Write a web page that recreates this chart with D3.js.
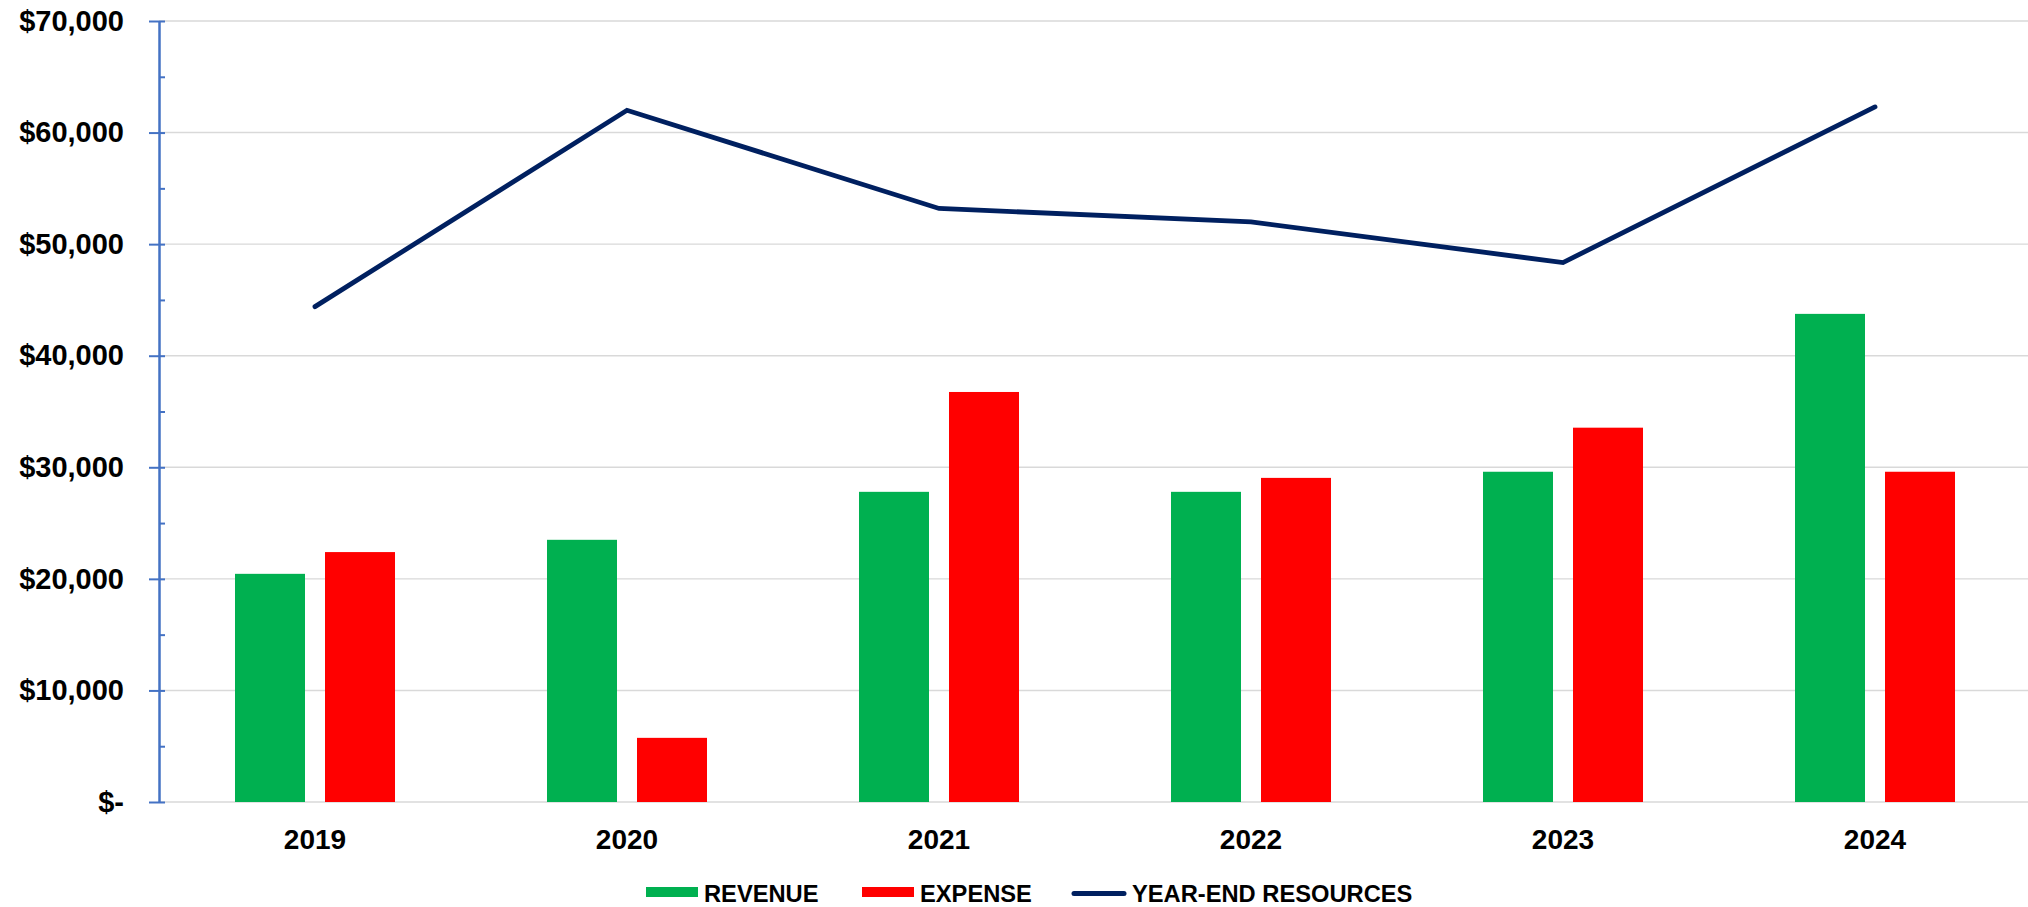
<!doctype html>
<meta charset="utf-8">
<style>
body { margin: 0; background: #fff; }
svg { display: block; font-family: "Liberation Sans", Arial, sans-serif; }
.grid line { stroke: #d9d9d9; stroke-width: 1.4; }
.yaxis path, .yaxis line, .yminor path, .yminor line { stroke: #4472c4; stroke-width: 2; }
.yaxis text { font-size: 29px; font-weight: bold; fill: #000; }
.xlab { font-size: 28px; font-weight: bold; fill: #000; }
.legend text { font-size: 23.7px; font-weight: bold; fill: #000; }
</style>
<body>
<div id="viz"></div>
<script src="https://cdn.jsdelivr.net/npm/d3@7"></script>
<script>
// chart data
var years = ["2019", "2020", "2021", "2022", "2023", "2024"];
var revenue = [20450, 23500, 27800, 27800, 29600, 43750];
var expense = [22400, 5750, 36750, 29050, 33550, 29600];
var resources = [44400, 62000, 53200, 52000, 48350, 62300];
var yTicks = [0, 10000, 20000, 30000, 40000, 50000, 60000, 70000];
var seriesNames = ["REVENUE", "EXPENSE", "YEAR-END RESOURCES"];

var W = 2028, H = 907;
var colors = { REVENUE: "#00b050", EXPENSE: "#ff0000", "YEAR-END RESOURCES": "#002060" };

var svg = d3.select("#viz").append("svg").attr("width", W).attr("height", H);

var x0 = d3.scaleBand().domain(years).range([159, 2031]).padding(0);
var x1 = d3.scaleBand().domain(["REVENUE", "EXPENSE"]).range([0, x0.bandwidth()])
    .paddingInner(20 / 90).paddingOuter(0.8444);
var y = d3.scaleLinear().domain([0, 70000]).range([802, 21]);

// gridlines
svg.append("g").attr("class", "grid").selectAll("line").data(yTicks).enter().append("line")
    .attr("x1", 159).attr("x2", W)
    .attr("y1", function(d) { return y(d); }).attr("y2", function(d) { return y(d); });

// bars
var rows = years.map(function(yr, i) {
    return { year: yr, vals: [{ k: "REVENUE", v: revenue[i] }, { k: "EXPENSE", v: expense[i] }] };
});
svg.append("g").selectAll("g").data(rows).enter().append("g")
    .attr("transform", function(d) { return "translate(" + x0(d.year) + ",0)"; })
    .selectAll("rect").data(function(d) { return d.vals; }).enter().append("rect")
    .attr("x", function(d) { return x1(d.k); })
    .attr("width", x1.bandwidth())
    .attr("y", function(d) { return y(d.v); })
    .attr("height", function(d) { return y(0) - y(d.v); })
    .attr("fill", function(d) { return colors[d.k]; });

// line
var line = d3.line()
    .x(function(d, i) { return x0(years[i]) + x0.bandwidth() / 2; })
    .y(function(d) { return y(d); });
svg.append("path").datum(resources)
    .attr("d", line).attr("fill", "none")
    .attr("stroke", colors["YEAR-END RESOURCES"]).attr("stroke-width", 4.8)
    .attr("stroke-linecap", "round").attr("stroke-linejoin", "miter");

// y axis: major ticks crossing outward + minor ticks inside
var minor = d3.range(0, 70001, 5000);
svg.append("g").attr("class", "yminor").attr("transform", "translate(159,0)")
    .call(d3.axisRight(y).tickValues(minor).tickSize(6).tickSizeOuter(0).tickFormat(""));
svg.append("g").attr("class", "yaxis").attr("transform", "translate(159,0)")
    .call(d3.axisLeft(y).tickValues(yTicks).tickSize(10).tickSizeOuter(0).tickPadding(25)
        .tickFormat(function(d) { return d === 0 ? "$-" : "$" + d3.format(",")(d); }))
    .call(function(g) { g.selectAll("text").attr("font-family", null); });

// x labels
svg.append("g").selectAll("text").data(years).enter().append("text")
    .attr("class", "xlab")
    .attr("x", function(d) { return x0(d) + x0.bandwidth() / 2; })
    .attr("y", 849)
    .attr("text-anchor", "middle")
    .text(function(d) { return d; });

// legend
var legX = [646, 862, 1072];
var lg = svg.append("g").attr("class", "legend");
seriesNames.forEach(function(name, i) {
    if (i < 2) {
        lg.append("rect").attr("x", legX[i]).attr("y", 887).attr("width", 52).attr("height", 10)
            .attr("fill", colors[name]);
        lg.append("text").attr("x", legX[i] + 58).attr("y", 901.5).text(name);
    } else {
        lg.append("line").attr("x1", legX[i] + 2).attr("x2", legX[i] + 52)
            .attr("y1", 893.5).attr("y2", 893.5)
            .attr("stroke", colors[name]).attr("stroke-width", 5).attr("stroke-linecap", "round");
        lg.append("text").attr("x", legX[i] + 60).attr("y", 901.5).text(name);
    }
});
</script>
</body>
